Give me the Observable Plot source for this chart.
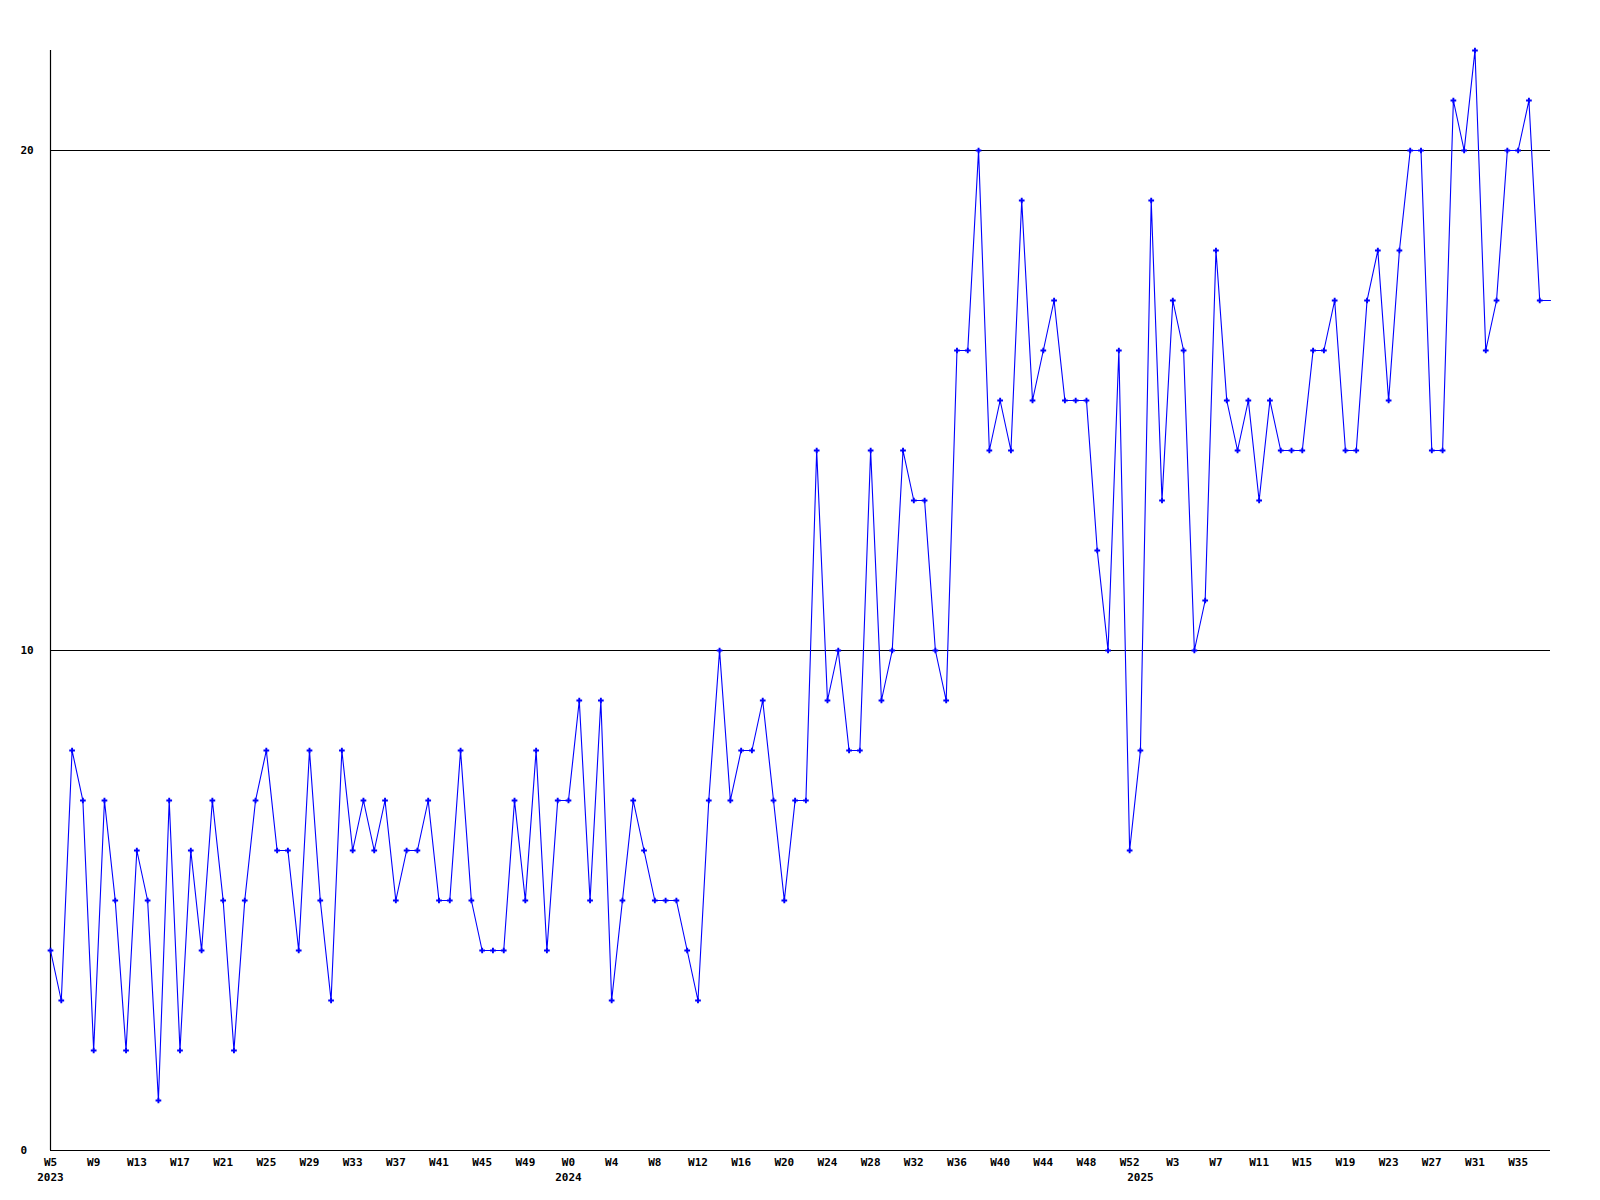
<!DOCTYPE html>
<html>
<head>
<meta charset="utf-8">
<script src="https://cdn.jsdelivr.net/npm/d3@7"></script>
<script src="https://cdn.jsdelivr.net/npm/@observablehq/plot@0.6"></script>
<style>
  html, body { margin: 0; padding: 0; background: #ffffff; }
  #chart { width: 1600px; height: 1200px; }
</style>
</head>
<body>
<div id="chart"></div>
<script>
// Week segments (categories): year, first week, last week
const years = [2023, 2024, 2025];
const firstWeeks = [5, 0, 0];
const lastWeeks = [52, 52, 38];

// Weekly values (last entry is the running, unmarked week)
const values = [
  4, 3, 8, 7, 2, 7, 5, 2, 6, 5,
  1, 7, 2, 6, 4, 7, 5, 2, 5, 7,
  8, 6, 6, 4, 8, 5, 3, 8, 6, 7,
  6, 7, 5, 6, 6, 7, 5, 5, 8, 5,
  4, 4, 4, 7, 5, 8, 4, 7, 7, 9,
  5, 9, 3, 5, 7, 6, 5, 5, 5, 4,
  3, 7, 10, 7, 8, 8, 9, 7, 5, 7,
  7, 14, 9, 10, 8, 8, 14, 9, 10, 14,
  13, 13, 10, 9, 16, 16, 20, 14, 15, 14,
  19, 15, 16, 17, 15, 15, 15, 12, 10, 16,
  6, 8, 19, 13, 17, 16, 10, 11, 18, 15,
  14, 15, 13, 15, 14, 14, 14, 16, 16, 17,
  14, 14, 17, 18, 15, 18, 20, 20, 14, 14,
  21, 20, 22, 16, 17, 20, 20, 21, 17,
  17
];

// Y tick labels
const yTicks = [0, 10, 20];
const gridLines = [10, 20];
const tickEvery = 4;

// Build the category table
const weeks = [];
years.forEach((y, k) => {
  for (let w = firstWeeks[k]; w <= lastWeeks[k]; w++) weeks.push({year: y, week: w});
});
const data = values.map((v, i) => ({i, value: v, year: weeks[i].year, label: "W" + weeks[i].week}));
const markerData = data.slice(0, data.length - 1);
const xTicks = data.filter(d => d.i % tickEvery === 0);
const yearStarts = data.filter((d, i) => i === 0 || data[i - 1].year !== d.year);

const font = "'DejaVu Sans Mono', 'Liberation Mono', monospace";

const chart = Plot.plot({
  width: 1600,
  height: 1200,
  marginLeft: 50,
  marginRight: 50,
  marginTop: 50,
  marginBottom: 50,
  style: {fontFamily: font, fontSize: "11px", fontWeight: "bold", background: "#ffffff", color: "#000"},
  x: {type: "linear", domain: [0, values.length - 1], axis: null},
  y: {domain: [0, 22], axis: null},
  marks: [
    Plot.ruleY(gridLines, {stroke: "#000", strokeWidth: 1}),
    Plot.ruleY([0], {stroke: "#000", strokeWidth: 1.2}),
    Plot.ruleX([0], {stroke: "#000", strokeWidth: 1.2}),
    Plot.line(data, {x: "i", y: "value", stroke: "#0000ff", strokeWidth: 1.1}),
    Plot.dot(markerData, {x: "i", y: "value", symbol: "cross", r: 2.4, fill: "#0000ff", stroke: "none"}),
    Plot.text(yTicks, {y: d => d, text: d => String(d), frameAnchor: "left", dx: -30, textAnchor: "start", fill: "#000", fontWeight: "bold"}),
    Plot.text(xTicks, {x: "i", text: "label", frameAnchor: "bottom", dy: 12, lineAnchor: "middle", fill: "#000", fontWeight: "bold"}),
    Plot.text(yearStarts, {x: "i", text: d => String(d.year), frameAnchor: "bottom", dy: 27, lineAnchor: "middle", fill: "#000", fontWeight: "bold"})
  ]
});
document.getElementById("chart").appendChild(chart);
</script>
</body>
</html>
